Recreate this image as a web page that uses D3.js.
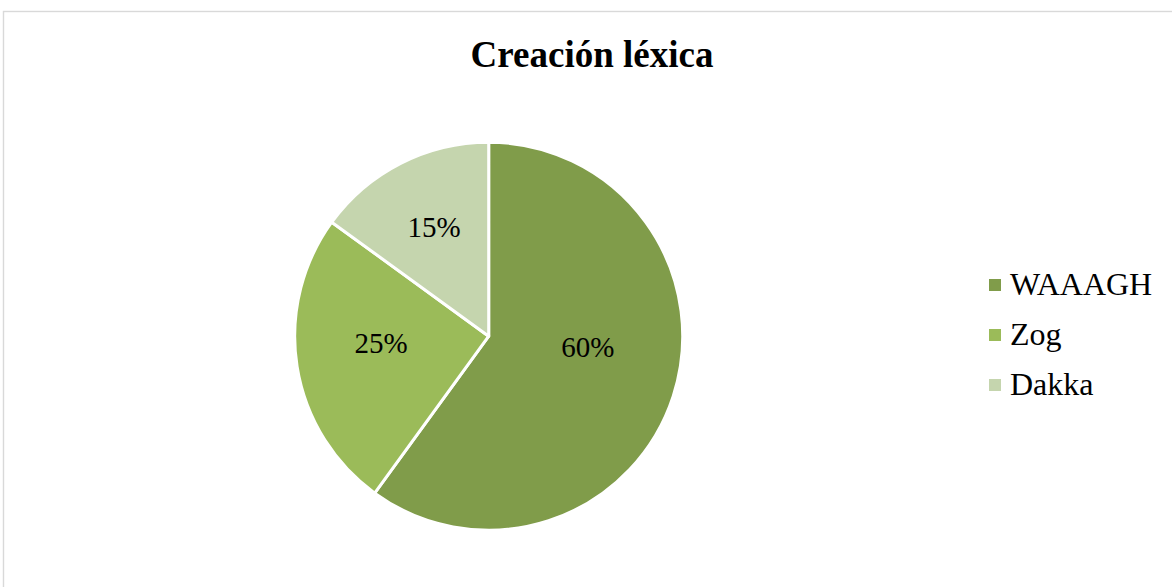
<!DOCTYPE html>
<html>
<head>
<meta charset="utf-8">
<script src="https://cdn.jsdelivr.net/npm/d3@7"></script>
<style>
  html, body { margin: 0; padding: 0; background: #fff; }
  svg { display: block; }
</style>
</head>
<body>
<svg id="chart" width="1172" height="587"></svg>
<script>
const title = "Creación léxica";
const categories = ["WAAAGH", "Zog", "Dakka"];
const values = [60, 25, 15];
const colors = ["#809c4a", "#9bbb59", "#c5d5ae"];

const svg = d3.select("#chart");
const font = "'Liberation Serif', 'Times New Roman', serif";

// chart frame
svg.append("rect")
  .attr("x", 3.5).attr("y", 11.5)
  .attr("width", 1190).attr("height", 600)
  .attr("fill", "#fff")
  .attr("stroke", "#d9d9d9")
  .attr("stroke-width", 1.4);

// title
svg.append("text")
  .attr("x", 592).attr("y", 67)
  .attr("text-anchor", "middle")
  .attr("font-family", font)
  .attr("font-weight", "bold")
  .attr("font-size", 37)
  .attr("fill", "#000")
  .text(title);

const cx = 488.7, cy = 336.2, r = 194;
const data = categories.map((c, i) => ({ name: c, value: values[i], color: colors[i] }));

const pie = d3.pie().value(d => d.value).sort(null);
const arcs = pie(data);
const arc = d3.arc().innerRadius(0).outerRadius(r);
const labelArc = d3.arc().innerRadius(r * 0.57).outerRadius(r * 0.57);
// layout nudges imitating the spreadsheet's "best fit" label placement
const labelNudge = [[-6, -24], [1.5, -11], [-4.5, -10.5]];

const g = svg.append("g").attr("transform", `translate(${cx},${cy})`);

g.selectAll("path.slice")
  .data(arcs)
  .join("path")
  .attr("class", "slice")
  .attr("d", arc)
  .attr("fill", d => d.data.color)
  .attr("stroke", "#fff")
  .attr("stroke-width", 3)
  .attr("stroke-linejoin", "round");

const total = d3.sum(values);
g.selectAll("text.lbl")
  .data(arcs)
  .join("text")
  .attr("class", "lbl")
  .attr("transform", (d, i) => {
    const [x, y] = labelArc.centroid(d);
    return `translate(${x + labelNudge[i][0]},${y + labelNudge[i][1]})`;
  })
  .attr("text-anchor", "middle")
  .attr("dy", "0.35em")
  .attr("font-family", font)
  .attr("font-size", 29)
  .attr("fill", "#000")
  .text(d => Math.round(d.data.value / total * 100) + "%");

// legend
const legend = svg.append("g").attr("transform", "translate(989,285)");
const item = legend.selectAll("g")
  .data(data)
  .join("g")
  .attr("transform", (d, i) => `translate(0,${i * 50})`);
item.append("rect")
  .attr("x", 0).attr("y", -6)
  .attr("width", 12).attr("height", 12)
  .attr("fill", d => d.color);
item.append("text")
  .attr("x", 21).attr("y", 10)
  .attr("font-family", font)
  .attr("font-size", 32)
  .attr("fill", "#000")
  .text(d => d.name);
</script>
</body>
</html>
